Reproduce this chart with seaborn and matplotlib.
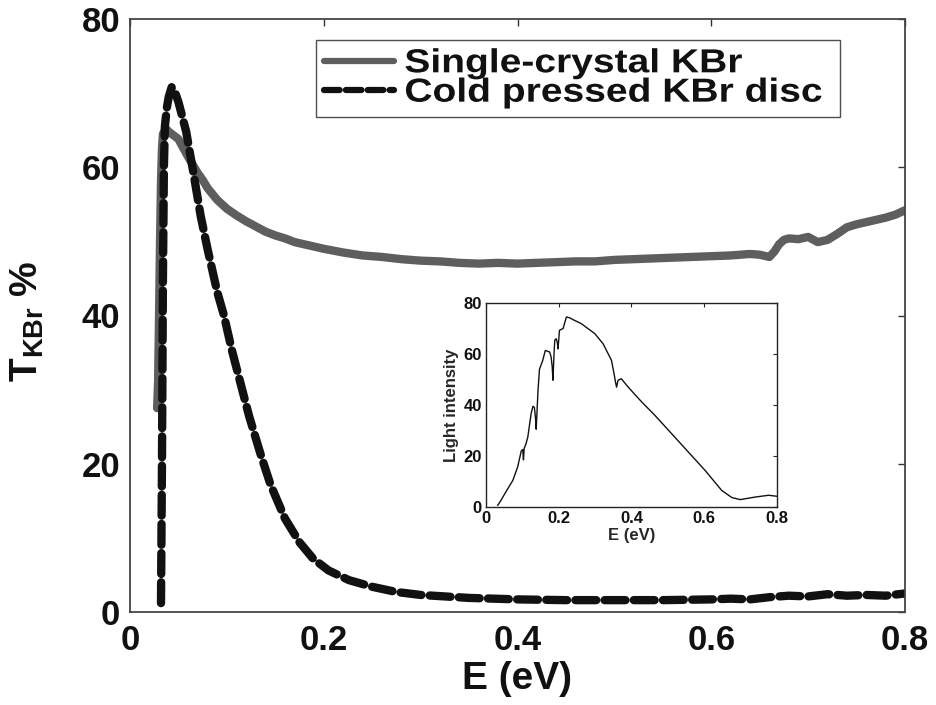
import numpy as np
import pandas as pd
import matplotlib
matplotlib.use("Agg")
import matplotlib.pyplot as plt
import seaborn as sns
from matplotlib.patheffects import AbstractPathEffect
from matplotlib.transforms import Affine2D

# ---- transmission of KBr (main panel) ----
e_crystal = [0.028, 0.029, 0.030, 0.031, 0.032, 0.033, 0.034, 0.037, 0.040, 0.045,
             0.050, 0.055, 0.060, 0.065, 0.070, 0.075, 0.080, 0.090, 0.100, 0.110,
             0.120, 0.130, 0.140, 0.150, 0.160, 0.170, 0.180, 0.190, 0.200, 0.220,
             0.240, 0.260, 0.280, 0.300, 0.320, 0.340, 0.360, 0.380, 0.400, 0.420,
             0.440, 0.460, 0.480, 0.500, 0.520, 0.540, 0.560, 0.580, 0.600, 0.620,
             0.640, 0.650, 0.660, 0.665, 0.670, 0.675, 0.680, 0.690, 0.700, 0.710,
             0.720, 0.730, 0.740, 0.750, 0.760, 0.770, 0.780, 0.790, 0.800]
t_crystal = [27.5, 31.0, 40.0, 50.0, 58.0, 62.5, 64.5, 65.2, 64.8, 64.3,
             63.8, 62.6, 61.4, 60.3, 59.2, 58.3, 57.2, 55.6, 54.4, 53.5,
             52.7, 52.0, 51.3, 50.8, 50.4, 49.9, 49.6, 49.3, 49.0, 48.5,
             48.1, 47.9, 47.6, 47.4, 47.3, 47.1, 47.0, 47.1, 47.0, 47.1,
             47.2, 47.3, 47.3, 47.5, 47.6, 47.7, 47.8, 47.9, 48.0, 48.1,
             48.3, 48.2, 47.9, 48.6, 49.6, 50.2, 50.4, 50.3, 50.6, 49.9,
             50.2, 51.0, 51.9, 52.3, 52.6, 52.9, 53.2, 53.6, 54.2]

e_disc = [0.032, 0.033, 0.034, 0.035, 0.036, 0.038, 0.040, 0.043, 0.046, 0.050,
          0.054, 0.058, 0.062, 0.065, 0.069, 0.073, 0.080, 0.090, 0.097, 0.105,
          0.115, 0.123, 0.135, 0.145, 0.160, 0.175, 0.189, 0.205, 0.226, 0.250,
          0.275, 0.300, 0.350, 0.400, 0.450, 0.500, 0.550, 0.600, 0.620, 0.640,
          0.660, 0.680, 0.700, 0.720, 0.740, 0.760, 0.780, 0.800]
t_disc = [1.2, 20.0, 45.0, 60.0, 65.5, 68.0, 69.5, 70.8, 70.3, 68.8,
          66.8, 64.8, 61.8, 59.6, 56.5, 53.4, 49.0, 43.2, 40.0, 35.4,
          30.4, 26.4, 21.2, 17.2, 12.6, 9.4, 7.2, 5.6, 4.3, 3.4,
          2.7, 2.3, 1.9, 1.7, 1.6, 1.6, 1.6, 1.7, 1.8, 1.7,
          2.0, 2.2, 2.1, 2.4, 2.2, 2.3, 2.2, 2.5]

# ---- source spectrum (inset) ----
e_lamp = [0.032, 0.041, 0.055, 0.074, 0.087, 0.097, 0.101, 0.103, 0.105, 0.110,
          0.115, 0.124, 0.129, 0.133, 0.136, 0.138, 0.143, 0.147, 0.156, 0.163,
          0.170, 0.175, 0.179, 0.182, 0.184, 0.187, 0.189, 0.193, 0.196, 0.198,
          0.202, 0.212, 0.221, 0.230, 0.239, 0.262, 0.299, 0.322, 0.345, 0.352,
          0.356, 0.359, 0.363, 0.372, 0.391, 0.428, 0.464, 0.510, 0.556, 0.602,
          0.648, 0.676, 0.699, 0.740, 0.777, 0.800]
i_lamp = [0.6, 2.6, 6.0, 10.5, 15.7, 22.0, 22.5, 18.5, 23.0, 24.8,
          27.5, 36.6, 39.5, 39.0, 35.0, 30.5, 45.8, 54.0, 57.5, 61.4,
          61.0, 60.8, 58.8, 55.0, 49.7, 60.0, 65.4, 66.0, 64.5, 62.0,
          69.3, 70.0, 74.5, 74.2, 73.5, 71.9, 68.0, 64.0, 57.5, 52.3,
          49.0, 47.0, 49.7, 50.3, 47.0, 41.2, 36.0, 28.8, 21.6, 14.4,
          6.5, 3.7, 2.9, 3.9, 4.6, 4.2]

x_ticks = [0, 0.2, 0.4, 0.6, 0.8]
x_ticklabels = ["0", "0.2", "0.4", "0.6", "0.8"]
y_ticks = [0, 20, 40, 60, 80]

crystal_label = "Single-crystal KBr"
disc_label = "Cold pressed KBr disc"


class WideText(AbstractPathEffect):
    """Draw glyphs widened horizontally from the text origin."""

    def __init__(self, sx):
        super().__init__()
        self._sx = sx

    def draw_path(self, renderer, gc, tpath, affine, rgbFace=None):
        renderer.draw_path(gc, tpath, Affine2D().scale(self._sx, 1.0) + affine,
                           rgbFace)


sns.set_theme(style="white")
plt.rcParams["font.family"] = ["Liberation Sans", "DejaVu Sans"]
plt.rcParams["font.weight"] = "bold"
plt.rcParams["mathtext.fontset"] = "custom"
plt.rcParams["mathtext.rm"] = "Liberation Sans:bold"
plt.rcParams["mathtext.it"] = "Liberation Sans:bold"
plt.rcParams["mathtext.bf"] = "Liberation Sans:bold"

fig = plt.figure(figsize=(9.37, 7.05), dpi=100)
fig.patch.set_facecolor("white")

ax = fig.add_axes([130 / 937, 1 - 612 / 705, 775 / 937, 593 / 705])

df_crystal = pd.DataFrame({"E": e_crystal, "T": t_crystal})
df_disc = pd.DataFrame({"E": e_disc, "T": t_disc})

sns.lineplot(data=df_crystal, x="E", y="T", ax=ax, color="#5e5e5e",
             linewidth=6.0, sort=False, label=crystal_label)
sns.lineplot(data=df_disc, x="E", y="T", ax=ax, color="#111111",
             linewidth=6.0, sort=False, label=disc_label)
line_c, line_d = ax.lines[0], ax.lines[1]
line_c.set_solid_capstyle("round")
line_c.set_solid_joinstyle("round")
line_d.set_dashes((2.5, 1.0))
line_d.set_dash_capstyle("round")
line_d.set_dash_joinstyle("round")

ax.set_xlim(0, 0.8)
ax.set_ylim(0, 80)
ax.set_xticks(x_ticks)
ax.set_xticklabels(x_ticklabels)
ax.set_yticks(y_ticks)
ax.tick_params(axis="both", which="both", direction="in", length=5, width=1,
               colors="#333333", top=True, right=True, labelsize=25,
               labelcolor="#111111")
ax.tick_params(axis="x", pad=9)
ax.tick_params(axis="y", pad=7)
for lab in ax.get_xticklabels() + ax.get_yticklabels():
    lab.set_fontweight("bold")
for sp in ax.spines.values():
    sp.set_visible(True)
    sp.set_color("#444444")
    sp.set_linewidth(1.3)

ax.set_xlabel("E (eV)", fontsize=28, fontweight="bold", color="#111111")
ax.set_ylabel(r"$\mathrm{T}_{\mathrm{KBr}}$ %", fontsize=28,
              fontweight="bold", color="#111111")
ax.xaxis.set_label_coords(0.5, -0.082)
ax.yaxis.set_label_coords(-0.108, 0.49)

leg = ax.legend(loc="upper left", bbox_to_anchor=(0.24, 0.9646, 0.676, 0.0),
                mode="expand", borderaxespad=0, frameon=True, fancybox=False,
                fontsize=24, handlelength=2.1, handletextpad=0.3,
                labelspacing=-0.05, borderpad=0.25)
leg.get_frame().set_edgecolor("#222222")
leg.get_frame().set_linewidth(1.0)
for t in leg.get_texts():
    t.set_fontweight("bold")
    t.set_color("#111111")
    t.set_path_effects([WideText(1.17)])
for h in leg.get_lines():
    h.set_linewidth(4.5)

# ---- inset ----
axi = fig.add_axes([486 / 937, 1 - 507 / 705, 291 / 937, 204 / 705])
df_lamp = pd.DataFrame({"E": e_lamp, "I": i_lamp})
sns.lineplot(data=df_lamp, x="E", y="I", ax=axi, color="#111111",
             linewidth=1.0, sort=False)
axi.set_xlim(0, 0.8)
axi.set_ylim(0, 80)
axi.set_xticks(x_ticks)
axi.set_xticklabels(x_ticklabels)
axi.set_yticks(y_ticks)
axi.tick_params(axis="both", direction="in", length=3, width=0.8,
                top=True, right=True, labelsize=12, pad=3,
                labelcolor="#111111")
for lab in axi.get_xticklabels() + axi.get_yticklabels():
    lab.set_fontweight("bold")
for sp in axi.spines.values():
    sp.set_visible(True)
    sp.set_color("#222222")
    sp.set_linewidth(1.0)
axi.set_xlabel("E (eV)", fontsize=12, fontweight="bold", labelpad=1)
axi.set_ylabel("Light intensity", fontsize=12, fontweight="bold", labelpad=3)

fig.savefig("out.png", dpi=100, facecolor="white")
